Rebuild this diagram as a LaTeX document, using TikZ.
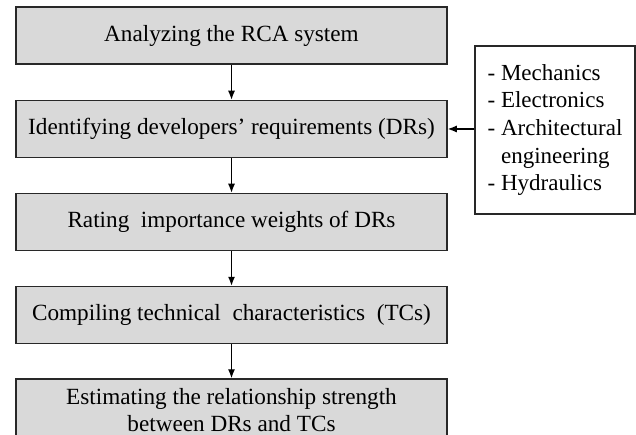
\documentclass[tikz,border=0pt]{standalone}
\usepackage{fontspec}
\setmainfont{Liberation Serif}
\usetikzlibrary{arrows.meta}
\definecolor{boxgray}{RGB}{217,217,217}
\definecolor{edgegray}{RGB}{40,40,40}
\tikzset{
    stepbox/.style={draw=edgegray, fill=boxgray, line width=1.5pt,
        minimum width=431pt, minimum height=57pt, inner sep=0pt,
        align=center, font=\fontsize{23.2}{27.5}\selectfont},
    fieldbox/.style={draw=edgegray, fill=white, line width=1.5pt,
        minimum width=160pt, minimum height=168pt, inner sep=9pt,
        align=left, font=\fontsize{23}{27.7}\selectfont},
    flow/.style={-{Latex[length=9pt,width=7pt]}, line width=1.2pt}
}
\begin{document}
\begin{tikzpicture}[x=1pt,y=-1pt]
    \useasboundingbox (0,0) rectangle (636,435);
    \def\midx{231.5}

    % main steps
    \node[stepbox] (analyze) at (\midx,35.5) {Analyzing the RCA system};
    \node[stepbox] (identify) at (\midx,129) {Identifying developers' requirements (DRs)};
    \node[stepbox] (rate) at (\midx,222) {Rating~ importance weights of DRs};
    \node[stepbox] (compile) at (\midx,315) {Compiling technical~ characteristics~ (TCs)};
    \node[stepbox, minimum height=62pt] (estimate) at (\midx,410)
        {Estimating the relationship strength\\between DRs and TCs};

    % disciplines
    \node[fieldbox] (fields) at (555,130) {- Mechanics\\- Electronics\\- Architectural\\\phantom{- }engineering\\- Hydraulics};

    \foreach \a/\b in {analyze/identify, identify/rate, rate/compile, compile/estimate} {
        \draw[flow] (\a) -- (\b);
    }
    \draw[flow] (fields.west |- identify) -- (identify);
\end{tikzpicture}
\end{document}
